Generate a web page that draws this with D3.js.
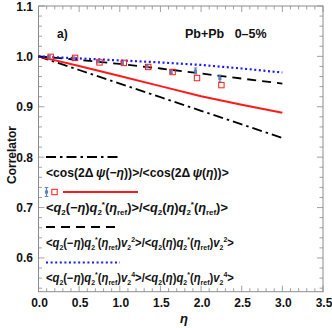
<!DOCTYPE html>
<html lang="en">
<head>
<meta charset="utf-8">
<title>Correlator vs eta</title>
<script src="https://d3js.org/d3.v7.min.js"></script>
<style>
  body { margin: 0; background: #fff; }
  svg text { font-family: "Liberation Sans", Arial, sans-serif; font-weight: bold; fill: #111; }
</style>
</head>
<body>
<div id="chart"></div>
<script>
// model curves (eta -> correlator)
const etaCurve = [0, 0.5, 1.0, 1.5, 2.0, 2.5, 3.0];
const cosRatio = [1.0, 0.973, 0.946, 0.919, 0.892, 0.865, 0.838];
const qRatio = [1.0, 0.981, 0.961, 0.941, 0.921, 0.904, 0.888];
const qv2Ratio = [1.0, 0.993, 0.985, 0.976, 0.966, 0.956, 0.946];
const qv4Ratio = [1.0, 0.996, 0.992, 0.988, 0.983, 0.976, 0.968];

// binned points
const etaBins = [0.15, 0.45, 0.75, 1.05, 1.35, 1.65, 1.95, 2.25];
const squareVals = [0.999, 0.997, 0.988, 0.987, 0.979, 0.969, 0.957, 0.943];
const dataVals = [0.999, 0.996, 0.990, 0.987, 0.980, 0.970, 0.971, 0.956];
const dataErr = [0.001, 0.001, 0.002, 0.002, 0.003, 0.004, 0.006, 0.007];

const xTicks = [0, 0.5, 1.0, 1.5, 2.0, 2.5, 3.0, 3.5];
const yTicks = [0.6, 0.7, 0.8, 0.9, 1.0, 1.1];

const W = 332, H = 328;
const svg = d3.select("#chart").append("svg").attr("width", W).attr("height", H);

const x = d3.scaleLinear().domain([0, 3.5]).range([38.5, 323]);
const y = d3.scaleLinear().domain([0.533, 1.1]).range([291.7, 6]);

const frameColor = "#8c8c8c";

// frame
svg.append("rect")
  .attr("x", x(0)).attr("y", y(1.1))
  .attr("width", x(3.5) - x(0)).attr("height", y(0.533) - y(1.1))
  .attr("fill", "none").attr("stroke", frameColor).attr("stroke-width", 1);

// ticks (inward, all four sides)
const xMinor = d3.range(0, 3.5001, 0.1);
const yMinor = d3.range(0.54, 1.1001, 0.02);
const isMajorX = v => Math.abs(v * 2 - Math.round(v * 2)) < 1e-6;
const isMajorY = v => Math.abs(v * 10 - Math.round(v * 10)) < 1e-6;

const tg = svg.append("g").attr("stroke", frameColor).attr("stroke-width", 0.8);
xMinor.forEach(v => {
  const len = isMajorX(v) ? 6 : 3.5;
  tg.append("line").attr("x1", x(v)).attr("x2", x(v)).attr("y1", y(0.533)).attr("y2", y(0.533) - len);
  tg.append("line").attr("x1", x(v)).attr("x2", x(v)).attr("y1", y(1.1)).attr("y2", y(1.1) + len);
});
yMinor.forEach(v => {
  const len = isMajorY(v) ? 6 : 3.5;
  tg.append("line").attr("y1", y(v)).attr("y2", y(v)).attr("x1", x(0)).attr("x2", x(0) + len);
  tg.append("line").attr("y1", y(v)).attr("y2", y(v)).attr("x1", x(3.5)).attr("x2", x(3.5) - len);
});

// tick labels
svg.append("g").selectAll("text").data(xTicks).join("text")
  .attr("x", d => x(d) + 1).attr("y", 307)
  .attr("text-anchor", "middle").style("font-size", "12px")
  .text(d => d3.format(".1f")(d));
svg.append("g").selectAll("text").data(yTicks).join("text")
  .attr("x", 33).attr("y", d => y(d) + 4.5)
  .attr("text-anchor", "end").style("font-size", "12px")
  .text(d => d3.format(".1f")(d));

// axis titles
svg.append("text")
  .attr("transform", `translate(16,${155}) rotate(-90)`)
  .attr("text-anchor", "middle").style("font-size", "12px")
  .text("Correlator");
svg.append("text")
  .attr("x", 184).attr("y", 323)
  .attr("text-anchor", "middle").style("font-size", "13px").style("font-style", "italic")
  .text("η");

// annotations
svg.append("text").attr("x", 57).attr("y", 38).style("font-size", "12px").text("a)");
svg.append("text").attr("x", 185).attr("y", 38).style("font-size", "12.5px").attr("xml:space", "preserve")
  .text("Pb+Pb   0–5%");

// curves
const line = d3.line().x(d => x(d[0])).y(d => y(d[1]));
const series = [
  { vals: cosRatio, color: "#000", width: 1.8, dash: "10,4,2.5,4" },
  { vals: qRatio, color: "#ff1a1a", width: 2, dash: null },
  { vals: qv2Ratio, color: "#000", width: 1.8, dash: "9,6" },
  { vals: qv4Ratio, color: "#1a1aff", width: 2.2, dash: "2,2.6" }
];
series.forEach(s => {
  svg.append("path")
    .datum(etaCurve.map((e, i) => [e, s.vals[i]]))
    .attr("d", line)
    .attr("fill", "none").attr("stroke", s.color)
    .attr("stroke-width", s.width)
    .attr("stroke-dasharray", s.dash);
});

// data points with errors
const dataColor = "#5f84c0";
function drawDataPoint(g, px, py, ey) {
  g.append("line").attr("x1", px).attr("x2", px).attr("y1", py - ey).attr("y2", py + ey)
    .attr("stroke", dataColor).attr("stroke-width", 1.2);
  [py - ey, py + ey].forEach(cy => g.append("line")
    .attr("x1", px - 1.8).attr("x2", px + 1.8).attr("y1", cy).attr("y2", cy)
    .attr("stroke", dataColor).attr("stroke-width", 1));
  g.append("rect").attr("x", px - 1.6).attr("y", py - 1.6).attr("width", 3.2).attr("height", 3.2)
    .attr("fill", dataColor);
}
function drawSquare(g, px, py) {
  g.append("rect").attr("x", px - 2.7).attr("y", py - 2.7).attr("width", 5.4).attr("height", 5.4)
    .attr("fill", "none").attr("stroke", "#ff1a1a").attr("stroke-width", 1);
}
const pg = svg.append("g");
etaBins.forEach((e, i) => {
  drawDataPoint(pg, x(e) - 1.5, y(dataVals[i]), Math.max(y(dataVals[i] - dataErr[i]) - y(dataVals[i]), 1.5));
  drawSquare(pg, x(e), y(squareVals[i]));
});

// legend text; squeezed horizontally so each row spans the width it has in the figure
function richText(px, py, parts, width, base) {
  const small = base * 0.62;
  const g = svg.append("g");
  const t = g.append("text").attr("x", 0).attr("y", 0).style("font-size", base + "px");
  let shift = 0;
  parts.forEach(p => {
    const [str, style] = typeof p === "string" ? [p, ""] : p;
    let target = 0, size = base;
    if (style.includes("sub")) { target = base * 0.25; size = small; }
    if (style.includes("sup")) { target = -base * 0.4; size = small; }
    const ts = t.append("tspan").attr("dy", target - shift).style("font-size", size + "px").text(str);
    if (style.includes("i")) ts.style("font-style", "italic");
    shift = target;
  });
  const w = t.node().getComputedTextLength();
  g.attr("transform", `translate(${px},${py}) scale(${width / w},1)`);
}
const q2 = [["q", "i"], ["2", "sub"]];
const qStar = [["q", "i"], ["2", "sub"], ["*", "sup"], "(", ["η", "i"], ["ref", "sub"], ")"];
const legendRows = [
  { y: 157, color: "#000", width: 1.8, dash: "10,4,2.5,4", x2: 120, span: 183, size: 12.3,
    parts: ["<cos(2Δ\u2009", ["ψ", "i"], "(−", ["η", "i"], "))>/<cos(2Δ\u2009", ["ψ", "i"], "(", ["η", "i"], "))>"] },
  { y: 192, color: "#ff1a1a", width: 2, dash: null, x1: 63, x2: 138, span: 182, size: 12.3,
    parts: ["<", ...q2, "(−", ["η", "i"], ")", ...qStar, ">/<", ...q2, "(", ["η", "i"], ")", ...qStar, ">"] },
  { y: 227, color: "#000", width: 1.8, dash: "9,6", x2: 120, span: 188, size: 12,
    parts: ["<", ...q2, "(−", ["η", "i"], ")", ...qStar, ["v", "i"], ["2", "sub"], ["2", "sup"], ">/<",
            ...q2, "(", ["η", "i"], ")", ...qStar, ["v", "i"], ["2", "sub"], ["2", "sup"], ">"] },
  { y: 262.5, color: "#1a1aff", width: 2.2, dash: "2,2.6", x2: 120, span: 188, size: 12,
    parts: ["<", ...q2, "(−", ["η", "i"], ")", ...qStar, ["v", "i"], ["2", "sub"], ["4", "sup"], ">/<",
            ...q2, "(", ["η", "i"], ")", ...qStar, ["v", "i"], ["2", "sub"], ["4", "sup"], ">"] }
];
legendRows.forEach(r => {
  svg.append("line").attr("x1", r.x1 || 46).attr("x2", r.x2).attr("y1", r.y).attr("y2", r.y)
    .attr("stroke", r.color).attr("stroke-width", r.width).attr("stroke-dasharray", r.dash);
  richText(46, r.y + 19.5, r.parts, r.span, r.size);
});
drawDataPoint(svg, 46.5, 192, 4.5);
drawSquare(svg, 54.5, 192);
</script>
</body>
</html>
